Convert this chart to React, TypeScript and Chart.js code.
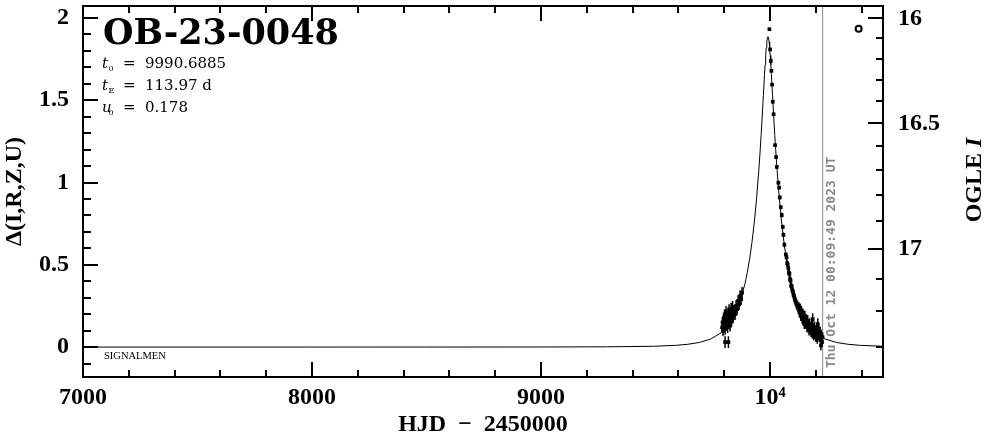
import React, { useEffect, useRef } from "react";
import { Chart, registerables } from "chart.js";

Chart.register(...registerables);

// ---- axis ranges ----
const X_MIN = 7000;
const X_MAX = 10493;
const Y_MIN = -0.182;
const Y_MAX = 2.073;

// ---- tick values / labels ----
const X_MAJOR = [7000, 8000, 9000, 10000];
const X_LABELS = ["7000", "8000", "9000", "10\u2074"];
const X_MINOR = [7200, 7400, 7600, 7800, 8200, 8400, 8600, 8800, 9200, 9400, 9600, 9800, 10200, 10400];

const Y_MAJOR = [0, 0.5, 1, 1.5, 2];
const Y_LABELS = ["0", "0.5", "1", "1.5", "2"];
const Y_MINOR = [-0.1, 0.1, 0.2, 0.3, 0.4, 0.6, 0.7, 0.8, 0.9, 1.1, 1.2, 1.3, 1.4, 1.6, 1.7, 1.8, 1.9];

// right axis: OGLE I magnitude ticks, placed at the Δ value where each magnitude sits
const MAG_LABELS = ["16", "16.5", "17"];
const MAG_MAJOR_DELTA = [1.998, 1.36, 0.595];
const MAG_MINOR_DELTA = [1.877, 1.752, 1.625, 1.494, 1.22, 1.075, 0.924, 0.764, 0.414, 0.217, 0.0];

// ---- model light curve (HJD-2450000, Δ) ----
const CURVE_T = [
  7000, 7990.69, 8490.69, 8990.69, 9290.69, 9490.69, 9590.69, 9640.69, 9690.69, 9740.69,
  9790.69, 9815.69, 9840.69, 9865.69, 9890.69, 9900.69, 9910.69, 9920.69, 9930.69, 9940.69,
  9950.69, 9955.69, 9960.69, 9965.69, 9970.69, 9975.69, 9978.19, 9980.69, 9983.19, 9985.69,
  9988.19, 9990.69, 9993.19, 9995.69, 9998.19, 10000.69, 10003.19, 10005.69, 10010.69, 10015.69,
  10020.69, 10025.69, 10030.69, 10040.69, 10050.69, 10060.69, 10070.69, 10080.69, 10090.69, 10115.69,
  10140.69, 10165.69, 10190.69, 10240.69, 10290.69, 10340.69, 10390.69, 10490.69,
];
const CURVE_D = [
  0, 0, 0.0001, 0.0004, 0.0015, 0.0048, 0.0107, 0.0168, 0.0277, 0.0485,
  0.0902, 0.1263, 0.1801, 0.2616, 0.3869, 0.4548, 0.5364, 0.6346, 0.7534, 0.8976,
  1.0729, 1.1741, 1.2847, 1.4043, 1.5303, 1.6569, 1.7168, 1.7717, 1.8189, 1.8555,
  1.8788, 1.8867, 1.8788, 1.8555, 1.8189, 1.7717, 1.7168, 1.6569, 1.5303, 1.4043,
  1.2847, 1.1741, 1.0729, 0.8976, 0.7534, 0.6346, 0.5364, 0.4548, 0.3869, 0.2616,
  0.1801, 0.1263, 0.0902, 0.0485, 0.0277, 0.0168, 0.0107, 0.0048,
];

// ---- observations (HJD-2450000, Δ, error) ----
const OBS_T = [
  9790.4, 9792.5, 9794.8, 9797.0, 9799.1, 9801.3, 9803.5, 9805.7, 9807.9, 9810.0,
  9812.2, 9814.4, 9816.6, 9818.8, 9821.0, 9823.1, 9825.3, 9827.5, 9829.7, 9831.9,
  9834.1, 9836.2, 9838.4, 9842.8, 9847.2, 9851.5, 9855.9, 9860.3, 9864.6, 9869.0,
  9873.4, 9877.7, 9803.5, 9818.0,
  9997.0, 10000.0, 10003.1, 10005.7, 10008.7, 10011.8, 10015.3, 10021.8, 10026.2, 10029.3,
  10036.2, 10039.3, 10042.4, 10046.7, 10051.1, 10055.5, 10058.1, 10062.4, 10068.6,
  10072.0, 10074.5, 10077.0, 10079.5, 10082.0, 10084.5, 10087.0, 10089.5, 10092.0, 10094.5,
  10097.0, 10099.5, 10102.0, 10104.5, 10107.0, 10109.5, 10112.0, 10114.5, 10117.0, 10119.5,
  10122.0,
  10125, 10128, 10131, 10134, 10137, 10140, 10143, 10146, 10149, 10152,
  10155, 10158, 10161, 10164, 10167, 10170, 10173, 10176, 10179, 10182,
  10185, 10188, 10191, 10194, 10197, 10200, 10203, 10206, 10209, 10212,
  10215, 10218, 10221, 10224, 10227, 10229, 10186, 10208, 10222,
];
const OBS_D = [
  0.12, 0.15, 0.10, 0.17, 0.13, 0.19, 0.11, 0.16, 0.21, 0.14,
  0.18, 0.12, 0.20, 0.15, 0.22, 0.17, 0.13, 0.19, 0.23, 0.16,
  0.20, 0.24, 0.18, 0.22, 0.20, 0.25, 0.23, 0.28, 0.26, 0.31,
  0.29, 0.33, 0.03, 0.03,
  1.932, 1.809, 1.739, 1.679, 1.595, 1.491, 1.415, 1.227, 1.155, 1.095,
  0.999, 0.969, 0.909, 0.85, 0.802, 0.73, 0.682, 0.622, 0.562,
  0.545, 0.51, 0.5, 0.48, 0.452, 0.445, 0.412, 0.405, 0.372, 0.368,
  0.345, 0.338, 0.318, 0.312, 0.296, 0.285, 0.275, 0.262, 0.262, 0.246,
  0.238,
  0.25, 0.21, 0.24, 0.19, 0.22, 0.17, 0.21, 0.18, 0.14, 0.19,
  0.15, 0.17, 0.12, 0.16, 0.13, 0.10, 0.14, 0.11, 0.09, 0.13,
  0.08, 0.11, 0.07, 0.12, 0.09, 0.06, 0.10, 0.05, 0.08, 0.11,
  0.06, 0.09, 0.04, 0.07, 0.03, 0.06, 0.17, 0.14, 0.01,
];
const OBS_E = [
  0.035, 0.035, 0.035, 0.04, 0.035, 0.04, 0.035, 0.035, 0.04, 0.035,
  0.035, 0.035, 0.04, 0.035, 0.04, 0.035, 0.035, 0.035, 0.04, 0.035,
  0.035, 0.04, 0.035, 0.035, 0.035, 0.035, 0.035, 0.035, 0.035, 0.035,
  0.035, 0.035, 0.035, 0.035,
  0.008, 0.008, 0.008, 0.008, 0.008, 0.01, 0.01, 0.01, 0.01, 0.01,
  0.012, 0.012, 0.012, 0.012, 0.014, 0.014, 0.014, 0.015, 0.015,
  0.018, 0.018, 0.018, 0.022, 0.022, 0.022, 0.022, 0.022, 0.022, 0.022,
  0.022, 0.022, 0.022, 0.025, 0.025, 0.025, 0.025, 0.025, 0.025, 0.025,
  0.025,
  0.025, 0.03, 0.025, 0.03, 0.03, 0.03, 0.025, 0.03, 0.03, 0.03,
  0.03, 0.03, 0.03, 0.035, 0.03, 0.03, 0.035, 0.03, 0.03, 0.035,
  0.03, 0.03, 0.03, 0.035, 0.03, 0.03, 0.035, 0.03, 0.03, 0.035,
  0.03, 0.035, 0.03, 0.035, 0.03, 0.03, 0.035, 0.035, 0.03,
];

// ---- other marks ----
const CIRCLE_T = [10386.5];
const CIRCLE_D = [1.935];
const NOW_T = 10229.5;

// ---- texts ----
const EVENT_NAME = "OB-23-0048";
const PARAM_SYMS = ["t", "t", "u"];
const PARAM_SUBS = ["0", "E", "0"];
const PARAM_VALUES = ["9990.6885", "113.97 d", "0.178"];
const SOURCE_TEXT = "SIGNALMEN";
const DATE_TEXT = "Thu Oct 12 00:09:49 2023 UT";
const X_TITLE = "HJD  \u2212  2450000";
const Y_TITLE = "\u0394(I,R,Z,U)";
const Y2_TITLE_MAIN = "OGLE ";
const Y2_TITLE_ITALIC = "I";

const SERIF = '"Liberation Serif", "DejaVu Serif", serif';
const GREY = "#8a8a8a";

const inwardTicks = {
  id: "inwardTicks",
  afterDatasetsDraw(chart: any) {
    const { ctx, chartArea: a, scales } = chart;
    const xs = scales.x;
    const ys = scales.y;
    ctx.save();
    ctx.strokeStyle = "#000";
    ctx.lineWidth = 2;
    ctx.lineCap = "butt";
    const seg = (x1: number, y1: number, x2: number, y2: number) => {
      ctx.beginPath();
      ctx.moveTo(x1, y1);
      ctx.lineTo(x2, y2);
      ctx.stroke();
    };
    const xTicks = (vals: number[], len: number) =>
      vals.forEach((v) => {
        const p = Math.round(xs.getPixelForValue(v));
        seg(p, a.bottom, p, a.bottom - len);
        seg(p, a.top, p, a.top + len);
      });
    const leftTicks = (vals: number[], len: number) =>
      vals.forEach((v) => {
        const p = Math.round(ys.getPixelForValue(v));
        seg(a.left, p, a.left + len, p);
      });
    const rightTicks = (vals: number[], len: number) =>
      vals.forEach((v) => {
        const p = Math.round(ys.getPixelForValue(v));
        seg(a.right, p, a.right - len, p);
      });
    xTicks(X_MAJOR, 15);
    xTicks(X_MINOR, 7);
    leftTicks(Y_MAJOR, 15);
    leftTicks(Y_MINOR, 8);
    rightTicks(MAG_MAJOR_DELTA, 15);
    rightTicks(MAG_MINOR_DELTA, 7);
    ctx.strokeRect(a.left, a.top, a.right - a.left, a.bottom - a.top);
    ctx.restore();
  },
};

const texts = {
  id: "texts",
  afterDraw(chart: any) {
    const { ctx, scales } = chart;
    ctx.save();
    ctx.fillStyle = "#000";
    ctx.textAlign = "left";
    ctx.textBaseline = "alphabetic";
    ctx.font = 'bold 35px "DejaVu Serif"';
    ctx.fillText(EVENT_NAME, 103, 44);

    PARAM_SYMS.forEach((s, i) => {
      const y = 68 + i * 22;
      ctx.font = 'italic 15px "DejaVu Serif"';
      ctx.fillText(s, 102, y);
      ctx.font = '8px "DejaVu Serif"';
      ctx.fillText(PARAM_SUBS[i], 108.5, y + 3);
      ctx.font = '15px "DejaVu Serif"';
      ctx.fillText("=", 123, y);
      ctx.fillText(PARAM_VALUES[i], 145, y);
    });

    ctx.font = '10.5px "Liberation Serif"';
    ctx.fillText(SOURCE_TEXT, 104, 359);

    // date beside the "now" line
    const xNow = scales.x.getPixelForValue(NOW_T);
    ctx.save();
    ctx.fillStyle = GREY;
    ctx.translate(xNow + 9, 368);
    ctx.rotate(-Math.PI / 2);
    ctx.font = 'bold 13px "DejaVu Sans Mono"';
    ctx.textBaseline = "middle";
    ctx.fillText(DATE_TEXT, 0, 0);
    ctx.restore();

    // right axis title, reading bottom to top
    ctx.save();
    ctx.translate(975, 180);
    ctx.rotate(-Math.PI / 2);
    ctx.textBaseline = "middle";
    const fMain = "bold 24px " + SERIF;
    const fIt = "italic bold 24px " + SERIF;
    ctx.font = fMain;
    const w1 = ctx.measureText(Y2_TITLE_MAIN).width;
    ctx.font = fIt;
    const w2 = ctx.measureText(Y2_TITLE_ITALIC).width;
    const x0 = -(w1 + w2) / 2;
    ctx.font = fMain;
    ctx.fillText(Y2_TITLE_MAIN, x0, 0);
    ctx.font = fIt;
    ctx.fillText(Y2_TITLE_ITALIC, x0 + w1, 0);
    ctx.restore();

    ctx.restore();
  },
};

const noPad = (s: any) => {
  s.paddingTop = 0;
  s.paddingBottom = 0;
  s.paddingLeft = 0;
  s.paddingRight = 0;
};

export default function App() {
  const ref = useRef<HTMLCanvasElement>(null);
  useEffect(() => {
    const errData: any[] = [];
    OBS_T.forEach((t, i) => {
      errData.push({ x: t, y: OBS_D[i] - OBS_E[i] });
      errData.push({ x: t, y: OBS_D[i] + OBS_E[i] });
      errData.push({ x: t, y: null });
    });
    const tickFont = { family: SERIF, size: 24, weight: "bold" as const };
    const chart = new Chart(ref.current as HTMLCanvasElement, {
      type: "scatter",
      data: {
        datasets: [
          {
            data: CIRCLE_T.map((t, i) => ({ x: t, y: CIRCLE_D[i] })),
            pointStyle: "circle",
            pointRadius: 3,
            borderWidth: 2,
            borderColor: "#000",
            backgroundColor: "#fff",
          },
          {
            data: OBS_T.map((t, i) => ({ x: t, y: OBS_D[i] })),
            pointStyle: "rect",
            pointRadius: 2.6,
            borderWidth: 0,
            backgroundColor: "#000",
            borderColor: "#000",
          },
          {
            data: errData,
            showLine: true,
            spanGaps: false,
            pointRadius: 0,
            borderWidth: 1.5,
            borderColor: "#000",
          },
          {
            data: CURVE_T.map((t, i) => ({ x: t, y: CURVE_D[i] })),
            showLine: true,
            pointRadius: 0,
            borderWidth: 1,
            borderColor: "#000",
          },
          {
            data: [
              { x: NOW_T, y: Y_MIN },
              { x: NOW_T, y: Y_MAX },
            ],
            showLine: true,
            pointRadius: 0,
            borderWidth: 1,
            borderColor: GREY,
          },
        ],
      },
      options: {
        responsive: false,
        animation: false,
        devicePixelRatio: 1,
        layout: { padding: { top: 1, left: 0, right: 0, bottom: 0 } },
        plugins: { legend: { display: false }, tooltip: { enabled: false } },
        scales: {
          x: {
            type: "linear",
            position: "bottom",
            min: X_MIN,
            max: X_MAX,
            grid: { display: false, drawTicks: false },
            border: { display: false },
            afterBuildTicks: (s: any) => {
              s.ticks = X_MAJOR.map((v) => ({ value: v }));
            },
            afterFit: (s: any) => {
              s.height = 57;
              noPad(s);
            },
            ticks: {
              autoSkip: false,
              maxRotation: 0,
              padding: 6,
              color: "#000",
              font: tickFont,
              callback: (_v: any, i: number) => X_LABELS[i],
            },
            title: {
              display: true,
              text: X_TITLE,
              color: "#000",
              font: { family: SERIF, size: 24, weight: "bold", lineHeight: 1 },
              padding: { top: 0, bottom: -3 },
            },
          },
          y: {
            type: "linear",
            position: "left",
            min: Y_MIN,
            max: Y_MAX,
            grid: { display: false, drawTicks: false },
            border: { display: false },
            afterBuildTicks: (s: any) => {
              s.ticks = Y_MAJOR.map((v) => ({ value: v }));
            },
            afterFit: (s: any) => {
              s.width = 83;
              noPad(s);
            },
            ticks: {
              autoSkip: false,
              padding: 14,
              color: "#000",
              font: tickFont,
              callback: (_v: any, i: number) => Y_LABELS[i],
            },
            title: {
              display: true,
              text: Y_TITLE,
              color: "#000",
              font: { family: SERIF, size: 24, weight: "bold", lineHeight: 1 },
              padding: { top: 3, bottom: 0 },
            },
          },
          y2: {
            type: "linear",
            position: "right",
            min: Y_MIN,
            max: Y_MAX,
            grid: { display: false, drawTicks: false },
            border: { display: false },
            afterBuildTicks: (s: any) => {
              s.ticks = MAG_MAJOR_DELTA.map((v) => ({ value: v }));
            },
            afterFit: (s: any) => {
              s.width = 103;
              noPad(s);
            },
            ticks: {
              autoSkip: false,
              padding: 15,
              color: "#000",
              font: tickFont,
              callback: (_v: any, i: number) => MAG_LABELS[i],
            },
          },
        },
      },
      plugins: [inwardTicks, texts],
    } as any);
    return () => chart.destroy();
  }, []);
  return (
    <div style={{ position: "fixed", left: 0, top: 0, width: 986, height: 434, background: "#fff" }}>
      <canvas ref={ref} width={986} height={434} style={{ display: "block", width: 986, height: 434 }} />
    </div>
  );
}
